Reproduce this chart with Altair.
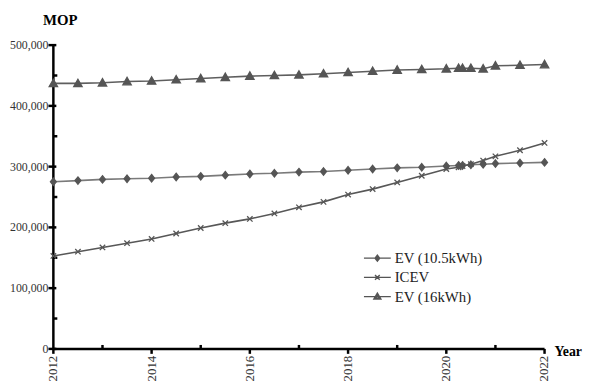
import altair as alt
import pandas as pd

years = [2012, 2012.5, 2013, 2013.5, 2014, 2014.5, 2015, 2015.5, 2016, 2016.5,
         2017, 2017.5, 2018, 2018.5, 2019, 2019.5, 2020, 2020.25, 2020.33, 2020.5,
         2020.75, 2021, 2021.5, 2022]
ev_105 = [275000, 277000, 279000, 280000, 281000, 283000, 284000, 286000, 288000, 289000,
          291000, 292000, 294000, 296000, 298000, 299000, 301000, 302000, 302000, 303000,
          304000, 305000, 306000, 307000]
icev = [153000, 160000, 167000, 174000, 181000, 190000, 199000, 207000, 214000, 223000,
        233000, 242000, 254000, 263000, 274000, 285000, 296000, 299000, 301000, 304000,
        310000, 317000, 327000, 339000]
ev_16 = [437000, 437000, 438000, 440000, 441000, 443000, 445000, 447000, 449000, 450000,
         451000, 453000, 455000, 457000, 459000, 460000, 461000, 462000, 462000, 462000,
         461000, 466000, 467000, 468000]
series_names = ["EV (10.5kWh)", "ICEV", "EV (16kWh)"]

x_domain = [2012, 2022]
y_domain = [0, 500000]
x_ticks = [2012, 2014, 2016, 2018, 2020, 2022]
x_minor = [2013, 2015, 2017, 2019, 2021]
y_ticks = [0, 100000, 200000, 300000, 400000, 500000]
y_minor = [50000, 150000, 250000, 350000, 450000]
y_labels = ["0", "100,000", "200,000", "300,000", "400,000", "500,000"]
x_labels = ["2012", "2014", "2016", "2018", "2020", "2022"]
x_title = "Year"
y_title = "MOP"

FONT = "Liberation Serif"

df = pd.DataFrame({
    "year": years * 3,
    "value": ev_105 + icev + ev_16,
    "series": [s for s in series_names for _ in years],
})

# marker shapes for data points
diamond = "M0,-0.75L0.6,0L0,0.75L-0.6,0Z"
cross = "M-0.55,-0.55L0.55,0.55M-0.55,0.55L0.55,-0.55"
triangle = "M0,-0.85L0.85,0.65L-0.85,0.65Z"
# legend symbols: line with marker (stroke only, inner paths to look filled)
lg_diamond = "M-1.6,0L1.6,0M0,-0.35L0.28,0L0,0.35L-0.28,0ZM0,-0.15L0.1,0L0,0.15L-0.1,0Z"
lg_cross = "M-1.6,0L1.6,0M-0.28,-0.28L0.28,0.28M-0.28,0.28L0.28,-0.28"
lg_triangle = "M-1.6,0L1.6,0M0,-0.42L0.42,0.3L-0.42,0.3ZM0,-0.18L0.2,0.18L-0.2,0.18Z"

x_scale = alt.Scale(domain=x_domain, nice=False, zero=False)
y_scale = alt.Scale(domain=y_domain, nice=False)
X = alt.X("year:Q", scale=x_scale, axis=None)
Y = alt.Y("value:Q", scale=y_scale, axis=None)

base = alt.Chart(df)

lines = base.mark_line(strokeWidth=1.6).encode(
    x=X, y=Y,
    color=alt.Color("series:N", scale=alt.Scale(domain=series_names,
                                                 range=["#7a7a7a", "#575757", "#5e5e5e"]),
                    legend=None),
)

points = base.mark_point(filled=True, fill="#555555", stroke="#555555", strokeWidth=1.3,
                         size=100, opacity=1).encode(
    x=X, y=Y,
    shape=alt.Shape("series:N", scale=alt.Scale(domain=series_names,
                                                 range=[diamond, cross, triangle]),
                    legend=None),
)

legend_layer = base.mark_point(filled=False, color="#555555", strokeWidth=1.4,
                               opacity=0, size=10).encode(
    x=X, y=Y,
    shape=alt.Shape("series:N", scale=alt.Scale(domain=series_names,
                                                 range=[lg_diamond, lg_cross, lg_triangle]),
                    legend=alt.Legend(orient="none", legendX=319, legendY=206.5, title=None,
                                      padding=0, symbolSize=289, symbolOpacity=1,
                                      symbolStrokeColor="#555555", symbolStrokeWidth=1.4,
                                      labelFont=FONT, labelFontSize=15,
                                      labelColor="#222222", labelOffset=8, rowPadding=1.5)),
)

# ---- hand-built axes (from the tick lists, through the same scales) ----
dom_y = alt.Chart(pd.DataFrame({"year": [x_domain[0]], "value": [y_domain[0]],
                                "v2": [y_domain[1]]})).mark_rule(
    color="black", strokeWidth=2.5).encode(x=X, y=Y, y2="v2:Q")
dom_x = alt.Chart(pd.DataFrame({"year": [x_domain[0]], "value": [y_domain[0]],
                                "x2": [x_domain[1]]})).mark_rule(
    color="black", strokeWidth=2.5).encode(x=X, y=Y, x2="x2:Q")

ymaj_df = pd.DataFrame({"value": y_ticks, "year": [x_domain[0]] * len(y_ticks),
                        "label": y_labels})
y_major = alt.Chart(ymaj_df).mark_rule(color="black", strokeWidth=2.5,
                                       xOffset=-5, x2Offset=3).encode(x=X, x2="year:Q", y=Y)
y_text = alt.Chart(ymaj_df).mark_text(font=FONT, fontSize=12, color="#333333",
                                      align="right", baseline="middle",
                                      xOffset=-5).encode(x=X, y=Y, text="label:N")
ymin_df = pd.DataFrame({"value": y_minor, "year": [x_domain[0]] * len(y_minor)})
y_minor_r = alt.Chart(ymin_df).mark_rule(color="black", strokeWidth=2.5,
                                         x2Offset=4).encode(x=X, x2="year:Q", y=Y)

xmaj_df = pd.DataFrame({"year": x_ticks, "value": [y_domain[0]] * len(x_ticks),
                        "label": x_labels})
x_major = alt.Chart(xmaj_df).mark_rule(color="black", strokeWidth=2.5,
                                       yOffset=5).encode(x=X, y=Y, y2="value:Q")
x_text = alt.Chart(xmaj_df).mark_text(font=FONT, fontSize=13, color="#333333",
                                      angle=270, align="right", baseline="middle",
                                      yOffset=7).encode(x=X, y=Y, text="label:N")
xmin_df = pd.DataFrame({"year": x_minor, "value": [y_domain[0]] * len(x_minor)})
x_minor_r = alt.Chart(xmin_df).mark_rule(color="black", strokeWidth=2.5,
                                         y2Offset=-4).encode(x=X, y=Y, y2="value:Q")

ytitle = alt.Chart(pd.DataFrame({"year": [x_domain[0]], "value": [y_domain[1]],
                                 "t": [y_title]})).mark_text(
    font=FONT, fontSize=15, fontWeight="bold", color="black", align="center",
    baseline="alphabetic", xOffset=7, yOffset=-20).encode(x=X, y=Y, text="t:N")
xtitle = alt.Chart(pd.DataFrame({"year": [x_domain[1]], "value": [y_domain[0]],
                                 "t": [x_title]})).mark_text(
    font=FONT, fontSize=14, fontWeight="bold", color="black", align="left",
    baseline="middle", xOffset=10, yOffset=3).encode(x=X, y=Y, text="t:N")

chart = alt.layer(
    lines, dom_y, dom_x, y_major, y_minor_r, x_major, x_minor_r, y_text, x_text,
    ytitle, xtitle, points, legend_layer
).resolve_scale(
    shape="independent"
).properties(
    width=498, height=308,
    padding={"left": 46, "top": 35, "right": 40, "bottom": 37},
    autosize="none",
    background="white",
).configure_view(stroke=None)

chart.save("out.html", embed_options={"renderer": "svg", "actions": False})
